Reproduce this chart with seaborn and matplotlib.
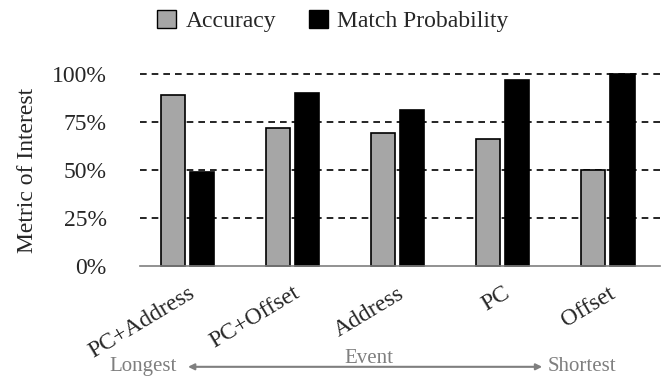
import pandas as pd
import matplotlib.pyplot as plt
import seaborn as sns
from matplotlib.patches import Patch, FancyArrowPatch

# ================= DATA =================

events = ["PC+Address", "PC+Offset", "Address", "PC", "Offset"]
accuracy = [0.89, 0.72, 0.69, 0.66, 0.50]
match_prob = [0.49, 0.90, 0.81, 0.97, 1.00]
yticks = [0, 0.25, 0.5, 0.75, 1.0]
ytick_labels = ["0%", "25%", "50%", "75%", "100%"]

df = pd.DataFrame({
    "Event": events * 2,
    "Metric": ["Accuracy"] * 5 + ["Match Probability"] * 5,
    "Value": accuracy + match_prob,
})

sns.set_style("white")
plt.rcParams["font.family"] = ["Liberation Serif", "DejaVu Serif"]

fig = plt.figure(figsize=(6.62, 3.77), dpi=100)
ax = fig.add_axes([0.2115, 0.294, 0.786, 0.51])

palette = {"Accuracy": "#a6a6a6", "Match Probability": "#000000"}
sns.barplot(
    data=df, x="Event", y="Value", hue="Metric",
    palette=palette, width=0.56, gap=0.18,
    edgecolor="black", linewidth=1.2, ax=ax, legend=False,
)
for p in ax.patches:
    p.set_clip_on(False)

# dashed grid lines
for y in yticks[1:]:
    ax.axhline(y, color="black", linestyle=(0, (4, 3)), linewidth=1.2,
               zorder=0, clip_on=False)

ax.set_xlim(-0.45, 4.5)
ax.set_ylim(0, 1.0)
ax.set_yticks(yticks)
ax.set_yticklabels(ytick_labels, fontsize=17)
ax.tick_params(axis="y", length=0, pad=24)
ax.tick_params(axis="x", length=0, pad=12)
plt.setp(ax.get_xticklabels(), rotation=31, ha="right",
         rotation_mode="anchor", fontsize=17)
ax.set_xlabel("")
ax.set_ylabel("Metric of Interest", fontsize=17, labelpad=10)

for s in ["top", "right", "left"]:
    ax.spines[s].set_visible(False)
ax.spines["bottom"].set_color("#7f7f7f")
ax.spines["bottom"].set_linewidth(1.2)

# legend on top
handles = [Patch(facecolor="#a6a6a6", edgecolor="black", label="Accuracy"),
           Patch(facecolor="black", edgecolor="black", label="Match Probability")]
fig.legend(handles=handles, loc="center", bbox_to_anchor=(0.503, 0.945),
           ncol=2, frameon=False, fontsize=17, handlelength=0.8,
           handleheight=0.8, handletextpad=0.4, columnspacing=1.4)

# event arrow at bottom
grey = "#7f7f7f"
fig.text(0.2168, 0.016, "Longest", color=grey, fontsize=15,
         ha="center", va="baseline")
fig.text(0.879, 0.016, "Shortest", color=grey, fontsize=15,
         ha="center", va="baseline")
fig.text(0.557, 0.036, "Event", color=grey, fontsize=15,
         ha="center", va="baseline")
fig.add_artist(FancyArrowPatch(
    (0.284, 0.027), (0.819, 0.027), transform=fig.transFigure,
    arrowstyle="<|-|>", mutation_scale=9, color=grey, linewidth=1.5,
    shrinkA=0, shrinkB=0))

fig.savefig("out.png", dpi=100)
